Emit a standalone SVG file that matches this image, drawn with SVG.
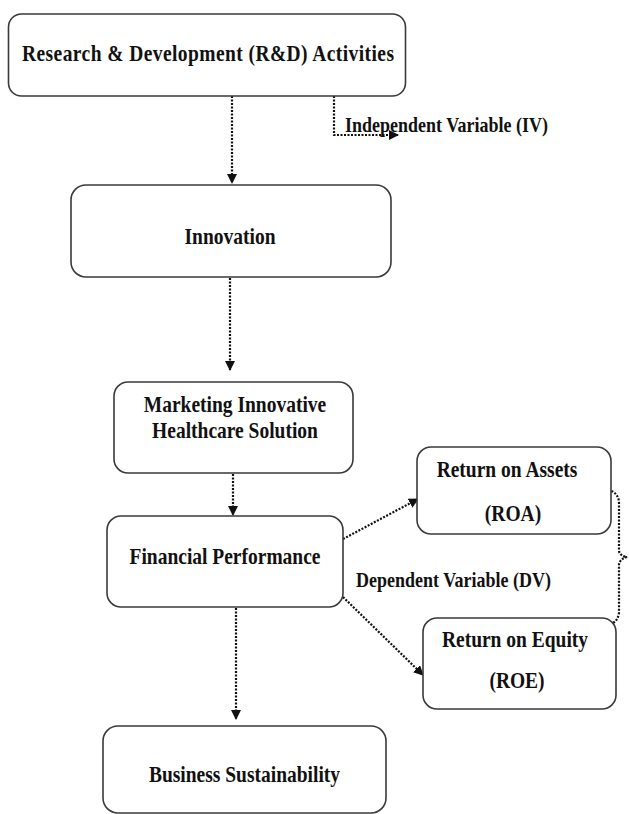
<svg xmlns="http://www.w3.org/2000/svg" width="629" height="814" viewBox="0 0 629 814">
<style>
.box{fill:#fff;stroke:#3a3a3a;stroke-width:1.6}
.t{font-family:"Liberation Serif","Times New Roman",serif;font-weight:bold;font-size:19.5px;fill:#111;text-anchor:middle}
.l{font-family:"Liberation Serif","Times New Roman",serif;font-weight:bold;font-size:18px;fill:#111}
.c{fill:none;stroke:#111;stroke-width:2.2;stroke-dasharray:2 1.5}
</style>
<defs>
<marker id="ah" viewBox="0 0 10 10" refX="9" refY="5" markerWidth="10" markerHeight="10" markerUnits="userSpaceOnUse" orient="auto">
<path d="M0,0 L10,5 L0,10 Z" fill="#111"/>
</marker>
</defs>
<rect width="629" height="814" fill="#fff"/>
<g id="connectors">
<line class="c" x1="232" y1="96" x2="232" y2="183" marker-end="url(#ah)"/>
<polyline class="c" points="334,96 334,135 398,135" marker-end="url(#ah)"/>
<line class="c" x1="230" y1="278" x2="230" y2="370" marker-end="url(#ah)"/>
<line class="c" x1="233" y1="474" x2="233" y2="515" marker-end="url(#ah)"/>
<line class="c" x1="236" y1="608" x2="236" y2="719" marker-end="url(#ah)"/>
<line class="c" x1="343" y1="539" x2="418" y2="499" marker-end="url(#ah)"/>
<line class="c" x1="343" y1="597" x2="423" y2="675" marker-end="url(#ah)"/>
<path class="c" d="M608,490 Q618,492 619,502 L619,551 Q620,556 627,557 Q620,559 619,564 L619,613 Q618,620 613,623"/>
</g>
<g id="rd">
<rect class="box" x="8.5" y="14" width="397" height="82" rx="13"/>
<text class="t" transform="translate(208,61) scale(1,1.14)" textLength="372">Research &amp; Development (R&amp;D) Activities</text>
</g>
<g id="iv-label">
<text class="l" transform="translate(345,132) scale(1,1.12)">Independent Variable (IV)</text>
</g>
<g id="innovation">
<rect class="box" x="71" y="185" width="320" height="92" rx="15"/>
<text class="t" transform="translate(230,244) scale(1,1.14)">Innovation</text>
</g>
<g id="marketing">
<rect class="box" x="114" y="382" width="239" height="91" rx="14"/>
<text class="t" transform="translate(235,412) scale(1,1.14)">Marketing Innovative</text>
<text class="t" transform="translate(235,438) scale(1,1.14)">Healthcare Solution</text>
</g>
<g id="financial">
<rect class="box" x="107" y="516" width="236" height="91" rx="14"/>
<text class="t" transform="translate(225,564) scale(1,1.14)">Financial Performance</text>
</g>
<g id="roa">
<rect class="box" x="417" y="447" width="194" height="87" rx="14"/>
<text class="t" transform="translate(507,477) scale(1,1.14)">Return on Assets</text>
<text class="t" transform="translate(513,521) scale(1,1.14)">(ROA)</text>
</g>
<g id="dv-label">
<text class="l" transform="translate(356,587) scale(1,1.12)">Dependent Variable (DV)</text>
</g>
<g id="roe">
<rect class="box" x="423" y="618" width="193" height="91" rx="14"/>
<text class="t" transform="translate(515,647) scale(1,1.14)">Return on Equity</text>
<text class="t" transform="translate(517,688) scale(1,1.14)">(ROE)</text>
</g>
<g id="sustainability">
<rect class="box" x="103" y="726" width="283" height="87" rx="15"/>
<text class="t" transform="translate(244.5,782) scale(1,1.14)">Business Sustainability</text>
</g>
</svg>
